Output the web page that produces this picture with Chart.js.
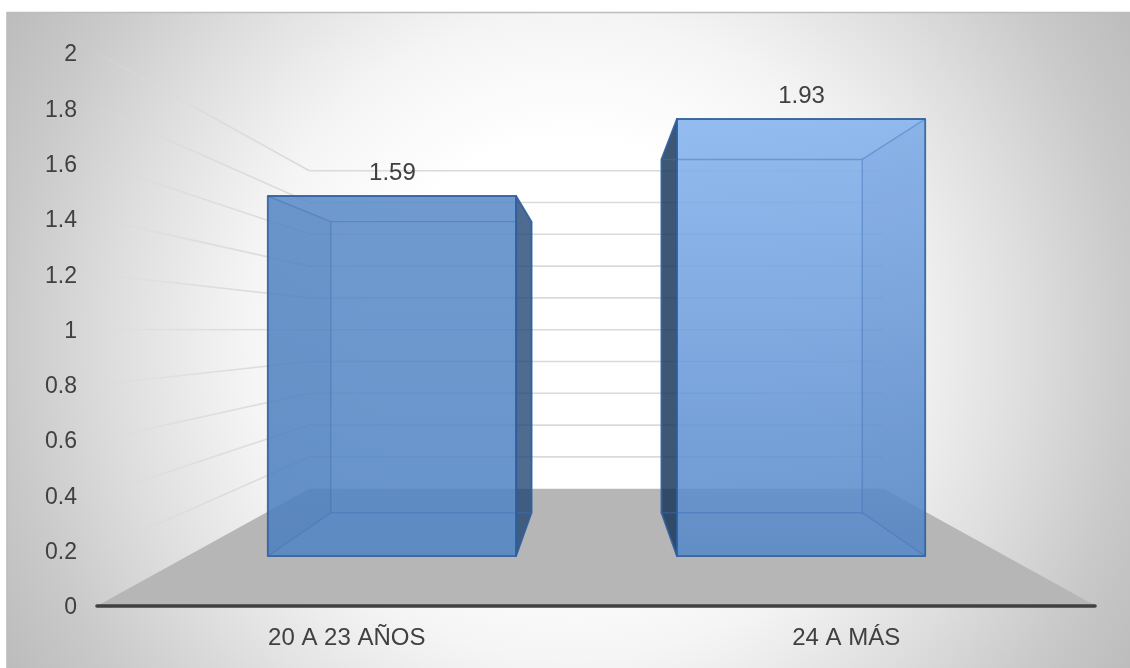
<!DOCTYPE html>
<html lang="en">
<head>
  <meta charset="UTF-8" />
  <title>Edad</title>
  <script src="https://cdn.jsdelivr.net/npm/chart.js"></script>
  <style>
    html, body { margin: 0; padding: 0; background: #fff; overflow: hidden; }
    canvas { display: block; }
  </style>
</head>
<body>
  <canvas id="chart" width="1130" height="668"></canvas>

  <script>
    const categories = ["20 A 23 AÑOS", "24 A MÁS"];
    const values = [1.59, 1.93];

    const textColor = "#404040";
    const fontFamily = "'Liberation Sans', Arial, sans-serif";

    // fake 3D: everything is scaled towards a vanishing point
    const vanish = { x: 596.5, y: 330 };
    const depthBack = 0.575;
    const barDepthFront = 0.819;
    const barDepthBack = 0.662;

    const barLooks = [
      { top: "rgba(90,139,201,.87)", bottom: "rgba(80,132,195,.87)", side: "rgba(35,70,115,.8)" },
      { top: "rgba(131,178,238,.87)", bottom: "rgba(85,135,200,.87)", side: "rgba(20,50,85,.82)" }
    ];

    function project(x, y, s) {
      return { x: vanish.x + (x - vanish.x) * s, y: vanish.y + (y - vanish.y) * s };
    }

    function poly(ctx, pts) {
      ctx.beginPath();
      pts.forEach((p, i) => i ? ctx.lineTo(p.x, p.y) : ctx.moveTo(p.x, p.y));
      ctx.closePath();
    }

    function seg(ctx, a, b) {
      ctx.beginPath();
      ctx.moveTo(a.x, a.y);
      ctx.lineTo(b.x, b.y);
      ctx.stroke();
    }

    const background = {
      id: "background",
      beforeDraw(chart) {
        const ctx = chart.ctx;
        ctx.save();
        ctx.fillStyle = "#fff";
        ctx.fillRect(0, 0, 1130, 668);
        const g = ctx.createRadialGradient(570, 340, 0, 570, 340, 700);
        g.addColorStop(0, "#ffffff");
        g.addColorStop(0.286, "#ffffff");
        g.addColorStop(0.457, "#f5f5f5");
        g.addColorStop(0.52, "#eeeeee");
        g.addColorStop(0.65, "#dedede");
        g.addColorStop(0.807, "#c9c9c9");
        g.addColorStop(0.93, "#bcbcbc");
        g.addColorStop(1, "#b4b4b4");
        ctx.fillStyle = g;
        ctx.fillRect(7, 12, 1123, 656);
        ctx.strokeStyle = "#bdbdbd";
        ctx.lineWidth = 1.6;
        ctx.beginPath();
        ctx.moveTo(7, 668);
        ctx.lineTo(7, 12.5);
        ctx.lineTo(1130, 12.5);
        ctx.stroke();
        ctx.restore();
      }
    };

    // walls and floor go under the bars
    const walls = {
      id: "walls",
      beforeDatasetsDraw(chart) {
        const ctx = chart.ctx;
        const { left, right, bottom } = chart.chartArea;
        const yScale = chart.scales.y;
        const backLeft = project(left, bottom, depthBack).x;
        // side wall lines melt into the background near the viewer
        const fade = ctx.createLinearGradient(left, 0, backLeft, 0);
        fade.addColorStop(0, "rgba(218,218,218,.2)");
        fade.addColorStop(0.5, "rgba(218,218,218,.8)");
        fade.addColorStop(1, "rgba(218,218,218,1)");
        ctx.save();
        ctx.lineWidth = 1.6;
        yScale.ticks.forEach(t => {
          if (t.value === 0) return;
          const y = yScale.getPixelForValue(t.value);
          const a = project(left, y, depthBack);
          const b = project(right, y, depthBack);
          ctx.strokeStyle = fade;
          seg(ctx, { x: left, y }, a);
          ctx.strokeStyle = "#dadada";
          seg(ctx, a, b);
        });
        poly(ctx, [
          { x: left, y: bottom },
          project(left, bottom, depthBack),
          project(right, bottom, depthBack),
          { x: right, y: bottom }
        ]);
        ctx.fillStyle = "#b6b6b6";
        ctx.fill();
        ctx.strokeStyle = textColor;
        ctx.lineWidth = 3.6;
        ctx.lineCap = "round";
        seg(ctx, { x: left, y: bottom }, { x: right - 1, y: bottom });
        ctx.restore();
      }
    };

    const boxes = {
      id: "boxes",
      afterDatasetsDraw(chart) {
        const ctx = chart.ctx;
        chart.getDatasetMeta(0).data.forEach((bar, i) => {
          const look = barLooks[i];
          const x0 = bar.x - bar.width / 2;
          const x1 = bar.x + bar.width / 2;
          const corners = s => ({
            tl: project(x0, bar.y, s), tr: project(x1, bar.y, s),
            bl: project(x0, bar.base, s), br: project(x1, bar.base, s)
          });
          const f = corners(barDepthFront);
          const b = corners(barDepthBack);
          const leftOfCentre = bar.x < vanish.x;

          ctx.save();

          // outer side, the one we really see from outside
          const outer = leftOfCentre ? [f.tr, b.tr, b.br, f.br] : [f.tl, b.tl, b.bl, f.bl];
          poly(ctx, outer);
          ctx.fillStyle = look.side;
          ctx.fill();

          // front face
          const g = ctx.createLinearGradient(0, f.tl.y, 0, f.bl.y);
          g.addColorStop(0, look.top);
          g.addColorStop(1, look.bottom);
          poly(ctx, [f.tl, f.tr, f.br, f.bl]);
          ctx.fillStyle = g;
          ctx.fill();

          // inner side seen through the glass
          const inner = leftOfCentre ? [f.tl, b.tl, b.bl, f.bl] : [f.tr, b.tr, b.br, f.br];
          poly(ctx, inner);
          ctx.fillStyle = "rgba(40,80,140,.05)";
          ctx.fill();

          // edges of the back face and the diagonals
          ctx.strokeStyle = "rgba(62,112,182,.45)";
          ctx.lineWidth = 1.4;
          poly(ctx, [b.tl, b.tr, b.br, b.bl]);
          ctx.stroke();
          if (leftOfCentre) {
            seg(ctx, f.tl, b.tl);
            seg(ctx, f.bl, b.bl);
          } else {
            seg(ctx, f.tr, b.tr);
            seg(ctx, f.br, b.br);
          }

          ctx.strokeStyle = "rgba(47,95,157,.9)";
          ctx.lineWidth = 1.8;
          ctx.lineJoin = "round";
          poly(ctx, outer);
          ctx.stroke();
          poly(ctx, [f.tl, f.tr, f.br, f.bl]);
          ctx.stroke();

          // value label over the top edge
          ctx.fillStyle = textColor;
          ctx.font = "24px " + fontFamily;
          ctx.textAlign = "center";
          ctx.textBaseline = "middle";
          ctx.fillText(String(values[i]), (f.tl.x + f.tr.x) / 2 + 0.5, f.tl.y - 23);
          ctx.restore();
        });
      }
    };

    new Chart(document.getElementById("chart"), {
      type: "bar",
      data: {
        labels: categories,
        datasets: [{
          data: values,
          backgroundColor: "transparent",
          borderWidth: 0,
          categoryPercentage: 1,
          barPercentage: 0.607
        }]
      },
      options: {
        responsive: false,
        animation: false,
        layout: { padding: { top: 53, right: 34, left: 0, bottom: 0 } },
        plugins: { legend: { display: false }, tooltip: { enabled: false } },
        scales: {
          x: {
            grid: { display: false, drawTicks: false },
            border: { display: false },
            ticks: {
              padding: 18, color: textColor, maxRotation: 0,
              font: { family: fontFamily, size: 24 }
            },
            afterFit(s) { s.height = 62; }
          },
          y: {
            min: 0,
            max: 2,
            grid: { display: false, drawTicks: false },
            border: { display: false },
            ticks: {
              stepSize: 0.2, padding: 20, color: textColor, labelOffset: 2,
              font: { family: fontFamily, size: 23 },
              callback: v => String(+v.toFixed(1))
            },
            afterFit(s) { s.width = 97; }
          }
        }
      },
      plugins: [background, walls, boxes]
    });
  </script>
</body>
</html>
